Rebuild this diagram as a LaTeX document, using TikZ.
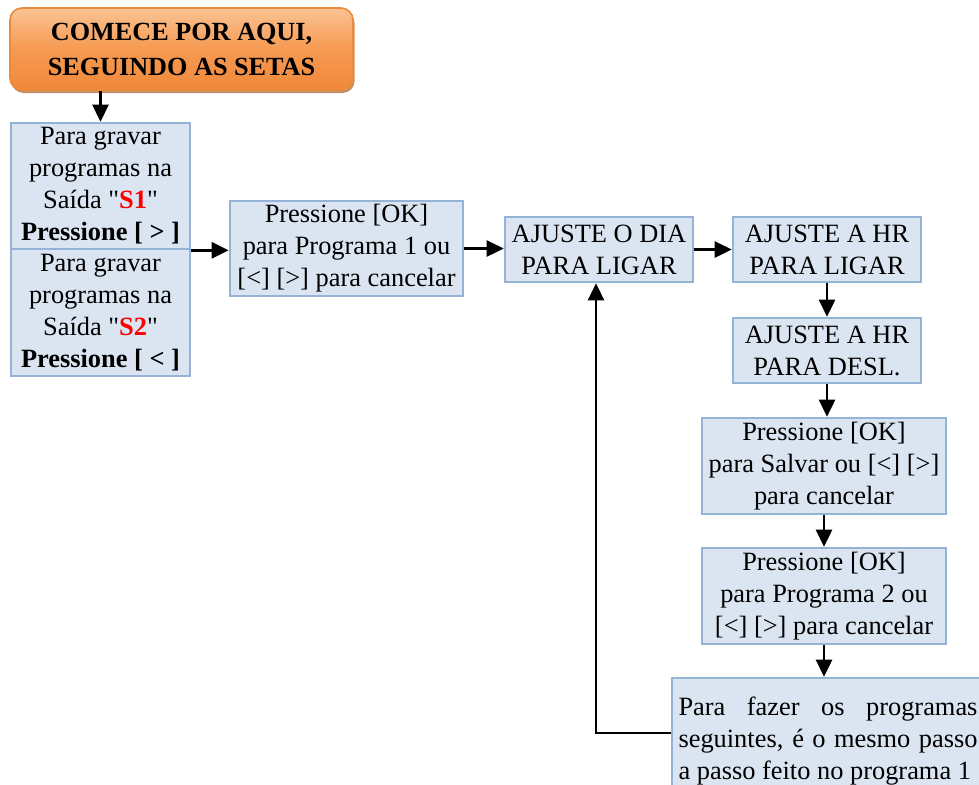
\documentclass[tikz,border=0pt]{standalone}
\usepackage{fontspec}
\setmainfont{Liberation Serif}[Ligatures=TeXOff]
\usetikzlibrary{arrows.meta,shadows}
\definecolor{boxfill}{HTML}{DBE5F1}
\definecolor{boxline}{HTML}{95B3D7}
\definecolor{orangetop}{HTML}{FAC393}
\definecolor{orangemid}{HTML}{F69A52}
\definecolor{orangebot}{HTML}{F0883A}
\definecolor{orangeline}{HTML}{EC8A3C}
\definecolor{saida}{HTML}{FF0000}

\begin{document}
\begin{tikzpicture}[x=0.5pt,y=-0.5pt,
  box/.style={draw=boxline,fill=boxfill,line width=1.3pt,align=center,inner sep=0pt,
    font=\fontsize{13.2pt}{16pt}\selectfont},
  startbox/.style={draw=orangeline,rounded corners=6pt,top color=orangetop,bottom color=orangebot,
    middle color=orangemid,line width=0.8pt,align=center,inner sep=0pt,
    drop shadow={shadow xshift=0.8pt,shadow yshift=-1.5pt,fill=orangebot!70!black,opacity=0.7},
    font=\bfseries\fontsize{13.1pt}{17.5pt}\selectfont},
  arr/.style={-{Triangle[length=8.5pt,width=8pt]},line width=1.3pt}]
\useasboundingbox (0,0) rectangle (979,784);
\node[startbox,minimum width=171.5pt,minimum height=41pt] (start) at (181.5,49) {COMECE POR AQUI,\\SEGUINDO AS SETAS};
\node[box,minimum width=89.5pt,minimum height=63pt] (s1) at (100.5,186) {Para gravar\\programas na\\Saída "\textcolor{saida}{\textbf{S1}}"\\\textbf{Pressione [ > ]}};
\node[box,minimum width=89.5pt,minimum height=63.5pt] (s2) at (100.5,312.5) {Para gravar\\programas na\\Saída "\textcolor{saida}{\textbf{S2}}"\\\textbf{Pressione [ < ]}};
\node[box,minimum width=116.5pt,minimum height=47.5pt] (prog1) at (346.5,248.5) {Pressione [OK]\\para Programa 1 ou\\{[<] [>]} para cancelar};
\node[box,minimum width=94pt,minimum height=32.5pt] (dia) at (599,249.5) {AJUSTE O DIA\\PARA LIGAR};
\node[box,minimum width=94pt,minimum height=32.5pt] (hrlig) at (827,249.5) {AJUSTE A HR\\PARA LIGAR};
\node[box,minimum width=94pt,minimum height=32.5pt] (hrdes) at (827,350.5) {AJUSTE A HR\\PARA DESL.};
\node[box,minimum width=122pt,minimum height=48pt] (salvar) at (824,466) {Pressione [OK]\\para Salvar ou {[<] [>]}\\para cancelar};
\node[box,minimum width=122pt,minimum height=48pt] (prog2) at (824,596) {Pressione [OK]\\para Programa 2 ou\\{[<] [>]} para cancelar};
\node[box,align=justify,text width=149.5pt,minimum width=156pt,minimum height=63pt] (final) at (828,741) {Para fazer os programas seguintes, é o mesmo passo a passo feito no programa 1};
% setas
\draw[arr] (s1.north |- start.south) -- (s1.north);
\draw[arr] (s1.south east) -- (prog1.west |- s1.south east);
\draw[arr] (prog1.east) -- (dia.west |- prog1.east);
\draw[arr] (dia.east) -- (hrlig.west);
\draw[arr] (hrlig.south) -- (hrdes.north);
\draw[arr] (hrdes.south) -- (salvar.north -| hrdes.south);
\draw[arr] (salvar.south) -- (prog2.north);
\draw[arr] (prog2.south) -- (final.north -| prog2.south);
\draw[arr] ([yshift=4pt]final.west) -| ([xshift=-1.5pt]dia.south);
\end{tikzpicture}
\end{document}
